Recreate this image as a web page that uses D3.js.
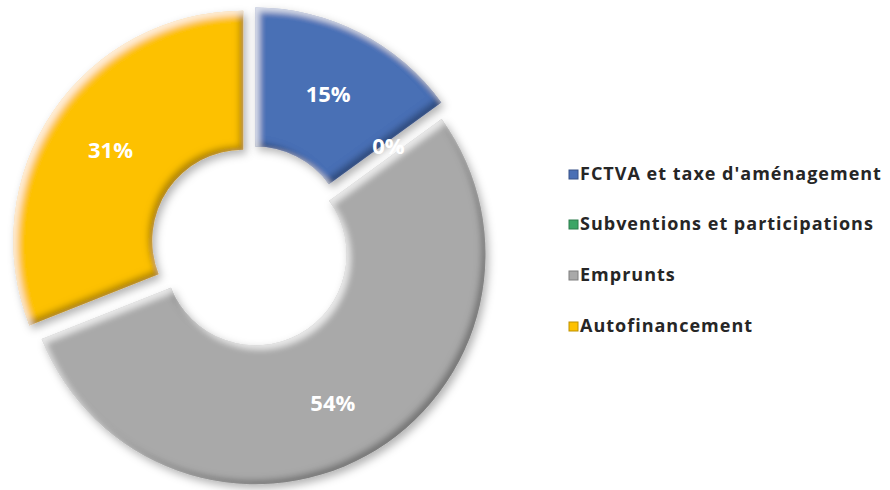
<!DOCTYPE html>
<html>
<head>
<meta charset="utf-8">
<script src="https://cdn.jsdelivr.net/npm/d3@7"></script>
<style>
  body { margin: 0; background: #fff; }
  svg { display: block; }
</style>
</head>
<body>
<div id="chart"></div>
<script>
// data
var categories = ["FCTVA et taxe d'aménagement", "Subventions et participations", "Emprunts", "Autofinancement"];
var values = [15, 0, 54, 31];
var valueLabels = ["15%", "0%", "54%", "31%"];
var colors = ["#4a6fb5", "#3ba566", "#a9a9a9", "#fdc100"];

var width = 890, height = 490;
var cx = 251, cy = 246;
var outerR = 230, innerR = 91, explode = 9.4;

var svg = d3.select("#chart")
  .append("svg")
    .attr("width", width)
    .attr("height", height);

// bevel + shadow filter
var defs = svg.append("defs");
var f = defs.append("filter")
    .attr("id", "bevel")
    .attr("x", "-10%").attr("y", "-10%")
    .attr("width", "120%").attr("height", "120%");

f.append("feGaussianBlur").attr("in", "SourceAlpha").attr("stdDeviation", 4).attr("result", "sb");
f.append("feOffset").attr("in", "sb").attr("dx", 3).attr("dy", 4).attr("result", "sbo");
f.append("feFlood").attr("flood-color", "#000").attr("flood-opacity", 0.3).attr("result", "sc");
f.append("feComposite").attr("in", "sc").attr("in2", "sbo").attr("operator", "in").attr("result", "shadow");

f.append("feGaussianBlur").attr("in", "SourceAlpha").attr("stdDeviation", 3).attr("result", "b");
f.append("feOffset").attr("in", "b").attr("dx", -4).attr("dy", -4).attr("result", "bul");
f.append("feComposite").attr("in", "SourceAlpha").attr("in2", "bul").attr("operator", "out").attr("result", "edgeDark");
f.append("feFlood").attr("flood-color", "#000").attr("flood-opacity", 0.55).attr("result", "dc");
f.append("feComposite").attr("in", "dc").attr("in2", "edgeDark").attr("operator", "in").attr("result", "dark");

f.append("feOffset").attr("in", "b").attr("dx", 4).attr("dy", 4).attr("result", "bdr");
f.append("feComposite").attr("in", "SourceAlpha").attr("in2", "bdr").attr("operator", "out").attr("result", "edgeLight");
f.append("feFlood").attr("flood-color", "#fff").attr("flood-opacity", 0.7).attr("result", "lc");
f.append("feComposite").attr("in", "lc").attr("in2", "edgeLight").attr("operator", "in").attr("result", "light");

var m = f.append("feMerge");
m.append("feMergeNode").attr("in", "shadow");
m.append("feMergeNode").attr("in", "SourceGraphic");
m.append("feMergeNode").attr("in", "dark");
m.append("feMergeNode").attr("in", "light");

var pie = d3.pie().sort(null).value(function(d) { return d; });
var arcs = pie(values);

var arc = d3.arc().innerRadius(innerR).outerRadius(outerR);

function shift(d) {
  var a = (d.startAngle + d.endAngle) / 2;
  return [Math.sin(a) * explode, -Math.cos(a) * explode];
}

var g = svg.append("g")
    .attr("transform", "translate(" + cx + "," + cy + ")");

g.selectAll("path.slice")
  .data(arcs)
  .enter()
  .append("path")
    .attr("class", "slice")
    .attr("d", arc)
    .attr("transform", function(d) { var s = shift(d); return "translate(" + s[0] + "," + s[1] + ")"; })
    .attr("fill", function(d, i) { return colors[i]; })
    .attr("filter", "url(#bevel)");

// value labels
g.selectAll("text.val")
  .data(arcs)
  .enter()
  .append("text")
    .attr("class", "val")
    .attr("x", function(d) { return arc.centroid(d)[0] + shift(d)[0]; })
    .attr("y", function(d) { return arc.centroid(d)[1] + shift(d)[1] + (d.value > 50 ? 8 : 0); })
    .attr("dy", "0.35em")
    .attr("text-anchor", "middle")
    .style("font-family", "'Open Sans', sans-serif")
    .style("font-weight", "bold")
    .style("font-size", "22px")
    .style("fill", "#fff")
    .text(function(d, i) { return valueLabels[i]; });

// legend
var legendY = [174, 224, 275, 326];
var legend = svg.append("g");
var item = legend.selectAll("g")
  .data(categories)
  .enter()
  .append("g")
    .attr("transform", function(d, i) { return "translate(569," + legendY[i] + ")"; });

item.append("rect")
    .attr("x", 0).attr("y", -4)
    .attr("width", 9).attr("height", 9)
    .attr("fill", function(d, i) { return colors[i]; })
    .attr("stroke", function(d, i) { return d3.color(colors[i]).darker(0.8); })
    .attr("stroke-width", 1);

item.append("text")
    .attr("x", 11)
    .attr("y", 0)
    .attr("dy", "0.35em")
    .style("font-family", "'Open Sans', sans-serif")
    .style("font-weight", "bold")
    .style("font-size", "18px")
    .style("letter-spacing", "1px")
    .style("fill", "#262626")
    .text(function(d) { return d; });
</script>
</body>
</html>
